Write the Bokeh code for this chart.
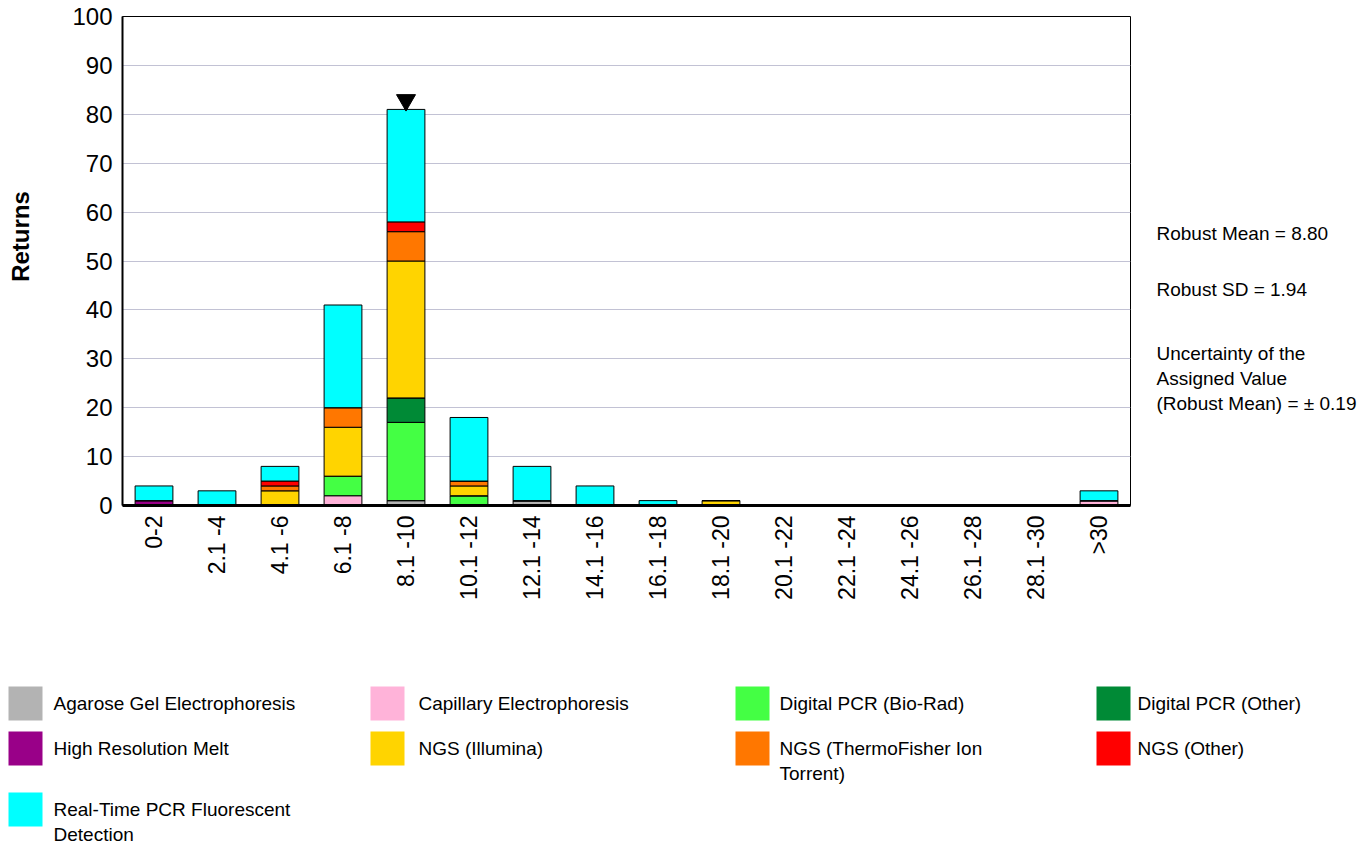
import math
from bokeh.plotting import figure
from bokeh.layouts import column, row
from bokeh.models import Range1d, FactorRange, ColumnDataSource
from bokeh.core.properties import value
from bokeh.embed import file_html
from bokeh.resources import INLINE

FONT = "Liberation Sans"

categories = ["0-2", "2.1 -4", "4.1 -6", "6.1 -8", "8.1 -10", "10.1 -12", "12.1 -14",
              "14.1 -16", "16.1 -18", "18.1 -20", "20.1 -22", "22.1 -24", "24.1 -26",
              "26.1 -28", "28.1 -30", ">30"]

methods = ["Agarose Gel Electrophoresis", "Capillary Electrophoresis", "Digital PCR (Bio-Rad)",
           "Digital PCR (Other)", "High Resolution Melt", "NGS (Illumina)",
           "NGS (ThermoFisher Ion Torrent)", "NGS (Other)", "Real-Time PCR Fluorescent Detection"]
colors = ["#b3b3b3", "#ffb3d9", "#44ff44", "#008a36", "#990088", "#ffd400",
          "#ff7700", "#ff0000", "#00ffff"]

agarose    = [0, 0, 0, 0, 1, 0, 1, 0, 0, 0, 0, 0, 0, 0, 0, 0]
capillary  = [0, 0, 0, 2, 0, 0, 0, 0, 0, 0, 0, 0, 0, 0, 0, 1]
dpcr_biorad = [0, 0, 0, 4, 16, 2, 0, 0, 0, 0, 0, 0, 0, 0, 0, 0]
dpcr_other = [0, 0, 0, 0, 5, 0, 0, 0, 0, 0, 0, 0, 0, 0, 0, 0]
hrm        = [1, 0, 0, 0, 0, 0, 0, 0, 0, 0, 0, 0, 0, 0, 0, 0]
ngs_illumina = [0, 0, 3, 10, 28, 2, 0, 0, 0, 1, 0, 0, 0, 0, 0, 0]
ngs_thermo = [0, 0, 1, 4, 6, 1, 0, 0, 0, 0, 0, 0, 0, 0, 0, 0]
ngs_other  = [0, 0, 1, 0, 2, 0, 0, 0, 0, 0, 0, 0, 0, 0, 0, 0]
rt_pcr     = [3, 3, 3, 21, 23, 13, 7, 4, 1, 0, 0, 0, 0, 0, 0, 2]

series = [agarose, capillary, dpcr_biorad, dpcr_other, hrm, ngs_illumina,
          ngs_thermo, ngs_other, rt_pcr]

y_ticks = list(range(0, 101, 10))
assigned_bin = "8.1 -10"

stats_lines = [["Robust Mean = 8.80"], ["Robust SD = 1.94"],
               ["Uncertainty of the", "Assigned Value", "(Robust Mean) = \u00b1 0.19"]]

# ---------------- main chart ----------------
keys = ["s%d" % i for i in range(len(series))]
data = {"cat": categories}
for k, s in zip(keys, series):
    data[k] = s
src = ColumnDataSource(data)

TOP_H = 650
FRAME_TOP, FRAME_BOT = 16, 505
p = figure(x_range=FactorRange(*categories), y_range=Range1d(0, 100),
           width=1095, height=TOP_H, output_backend="svg", toolbar_location=None,
           min_border_left=77, min_border_right=10, min_border_top=FRAME_TOP,
           min_border_bottom=TOP_H - FRAME_BOT)
p.vbar_stack(keys, x="cat", width=0.6, source=src, fill_color=colors,
             line_color="black", line_width=1)

totals = [sum(s[i] for s in series) for i in range(len(categories))]
mi = categories.index(assigned_bin)
p.scatter(x=[assigned_bin], y=[totals[mi] + 1.9], marker="inverted_triangle",
          size=19, fill_color="black", line_color="black")

p.outline_line_color = "black"
p.outline_line_width = 1
p.xgrid.visible = False
p.ygrid.grid_line_color = "#c2c2d4"
p.ygrid.grid_line_width = 1
p.yaxis.ticker = y_ticks
p.xaxis.major_tick_line_color = None
p.xaxis.minor_tick_line_color = None
p.yaxis.major_tick_line_color = None
p.yaxis.minor_tick_line_color = None
p.xaxis.major_tick_out = 0
p.yaxis.major_tick_out = 0
p.xaxis.major_tick_in = 0
p.yaxis.major_tick_in = 0
p.xaxis.axis_line_width = 3
p.yaxis.axis_line_width = 2
p.xaxis.axis_line_color = "black"
p.yaxis.axis_line_color = "black"
p.yaxis.major_label_text_font = FONT
p.yaxis.major_label_text_font_size = "24px"
p.yaxis.major_label_text_color = "black"
p.yaxis.major_label_standoff = 10
p.xaxis.major_label_text_font = FONT
p.xaxis.major_label_text_font_size = "23px"
p.xaxis.major_label_text_color = "black"
p.xaxis.major_label_orientation = math.pi / 2
p.xaxis.major_label_standoff = 10
p.x_range.range_padding = 0
p.background_fill_color = "white"
p.border_fill_color = "white"

# ---------------- helper for page-coordinate panels ----------------
def panel(w, h, y_top, y_bot):
    f = figure(width=w, height=h, x_range=Range1d(0, w), y_range=Range1d(y_bot, y_top),
               output_backend="svg", toolbar_location=None,
               x_axis_type=None, y_axis_type=None, min_border=0)
    f.outline_line_color = None
    f.xgrid.visible = False
    f.ygrid.visible = False
    f.background_fill_color = "white"
    f.border_fill_color = "white"
    return f

# side panels in a row get their frames aligned with the main chart frame
left = panel(45, TOP_H, FRAME_TOP, FRAME_BOT)
left.text(x=[20], y=[236], text=["Returns"], angle=math.pi / 2, text_align="center",
          text_baseline="middle", text_font=value(FONT), text_font_size="24px",
          text_font_style="bold", text_color="black")

side = panel(232, TOP_H, FRAME_TOP, FRAME_BOT)
sx, sy = [], []
st = []
y_starts = [233, 289, 353]
for y0, lines in zip(y_starts, stats_lines):
    for j, line in enumerate(lines):
        sx.append(16)
        sy.append(y0 + 25 * j)
        st.append(line)
side.text(x=sx, y=sy, text=st, text_align="left", text_baseline="middle",
          text_font=value(FONT), text_font_size="19px", text_color="black")

# legend panel
LEG_H = 847 - TOP_H
leg = panel(1372, LEG_H, TOP_H, TOP_H + LEG_H)
col_sw = [8, 370, 735, 1096]
col_tx = [53, 418, 779, 1137]
row_y = [703, 748, 809]
wrap = {"NGS (ThermoFisher Ion Torrent)": ["NGS (ThermoFisher Ion", "Torrent)"],
        "Real-Time PCR Fluorescent Detection": ["Real-Time PCR Fluorescent", "Detection"]}
rx, ry, rc = [], [], []
tx, ty, tt = [], [], []
for i, (m, c) in enumerate(zip(methods, colors)):
    r, cidx = divmod(i, 4)
    rx.append(col_sw[cidx] + 17)
    ry.append(row_y[r])
    rc.append(c)
    lines = wrap.get(m, [m])
    for j, line in enumerate(lines):
        tx.append(col_tx[cidx])
        ty.append(row_y[r] + 25 * j)
        tt.append(line)
leg.rect(x=rx, y=ry, width=34, height=34, fill_color=rc, line_color=None)
leg.text(x=tx, y=ty, text=tt, text_align="left", text_baseline="middle",
         text_font=value(FONT), text_font_size="19px", text_color="black")

layout = column(row(left, p, side, spacing=0), leg, spacing=0)

open("out.html", "w").write(file_html(layout, INLINE))
